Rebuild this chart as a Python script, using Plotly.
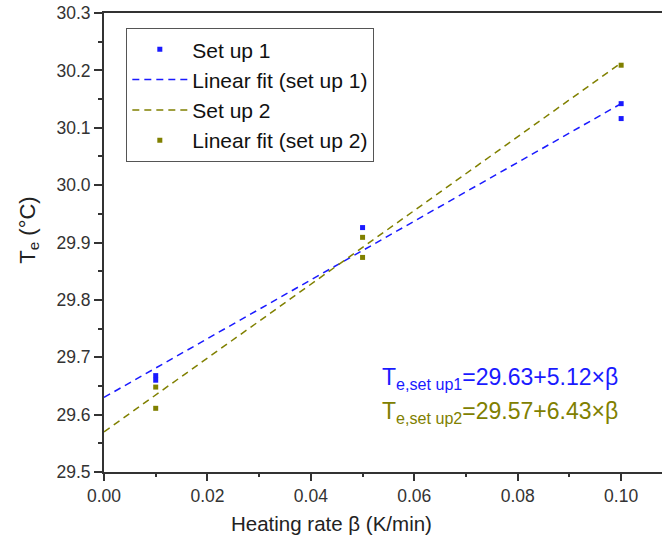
import plotly.graph_objects as go

# Measured equilibrium temperatures at each heating rate
beta_setup1 = [0.01, 0.01, 0.05, 0.10, 0.10]
te_setup1 = [29.668, 29.660, 29.926, 30.142, 30.116]

beta_setup2 = [0.01, 0.01, 0.05, 0.05, 0.10]
te_setup2 = [29.648, 29.611, 29.909, 29.874, 30.209]

# Linear fit coefficients (intercept, slope)
fit1 = (29.63, 5.12)
fit2 = (29.57, 6.43)
fit_beta = [0.0, 0.10]

blue = "#1a1aff"
olive = "#808000"
font_family = "Liberation Sans, Arial, sans-serif"

fig = go.Figure()

fig.add_trace(go.Scatter(
    x=beta_setup1, y=te_setup1, mode="markers", name="Set up 1",
    marker=dict(symbol="square", size=5, color=blue),
))
fig.add_trace(go.Scatter(
    x=fit_beta, y=[fit1[0] + fit1[1] * b for b in fit_beta], mode="lines",
    name="Linear fit (set up 1)",
    line=dict(color=blue, width=1.5, dash="7px,5px"),
))
fig.add_trace(go.Scatter(
    x=fit_beta, y=[fit2[0] + fit2[1] * b for b in fit_beta], mode="lines",
    name="Set up 2",
    line=dict(color=olive, width=1.5, dash="7px,5px"),
))
fig.add_trace(go.Scatter(
    x=beta_setup2, y=te_setup2, mode="markers", name="Linear fit (set up 2)",
    marker=dict(symbol="square", size=5, color=olive),
))

# Fit equations
fig.add_annotation(
    x=0.0534, y=29.663, xref="x", yref="y", xanchor="left", yanchor="middle",
    text=f"T<sub>e,set up1</sub>={fit1[0]:.2f}+{fit1[1]:.2f}×β",
    showarrow=False, font=dict(size=23, color=blue, family=font_family),
)
fig.add_annotation(
    x=0.0534, y=29.604, xref="x", yref="y", xanchor="left", yanchor="middle",
    text=f"T<sub>e,set up2</sub>={fit2[0]:.2f}+{fit2[1]:.2f}×β",
    showarrow=False, font=dict(size=23, color=olive, family=font_family),
)

# Axis titles
fig.add_annotation(
    x=0.407, y=-0.112, xref="paper", yref="paper", xanchor="center", yanchor="middle",
    text="Heating rate β (K/min)", showarrow=False,
    font=dict(size=20.5, color="#222222", family=font_family),
)
fig.add_annotation(
    x=-0.135, y=0.527, xref="paper", yref="paper", xanchor="center", yanchor="middle",
    text="T<sub>e</sub> (°C)", showarrow=False, textangle=-90,
    font=dict(size=22, color="#222222", family=font_family),
)

axis_common = dict(
    showline=True, linecolor="#333333", linewidth=2,
    ticks="outside", tickcolor="#333333", tickwidth=1.5,
    showgrid=False, zeroline=False,
    tickfont=dict(size=17.5, color="#333333", family=font_family),
)

fig.update_xaxes(
    range=[0, 0.1079], dtick=0.02, tick0=0, tickformat=".2f", ticklen=7,
    mirror=True,
    minor=dict(dtick=0.01, ticks="outside", ticklen=3, tickcolor="#333333", tickwidth=1.5),
    **axis_common,
)
fig.update_yaxes(
    range=[29.5, 30.3], dtick=0.1, tick0=29.5, tickformat=".1f", ticklen=8,
    minor=dict(dtick=0.05, ticks="outside", ticklen=4, tickcolor="#333333", tickwidth=1.5),
    **axis_common,
)

fig.update_layout(
    width=662, height=549,
    margin=dict(l=104, r=0, t=13, b=77),
    plot_bgcolor="white", paper_bgcolor="white",
    showlegend=True,
    legend=dict(
        x=0.04, y=0.967, xanchor="left", yanchor="top",
        bgcolor="white", bordercolor="#555555", borderwidth=1,
        font=dict(size=21, color="#111111", family=font_family),
        traceorder="normal", itemwidth=55,
    ),
)

fig.write_html("out.html")
